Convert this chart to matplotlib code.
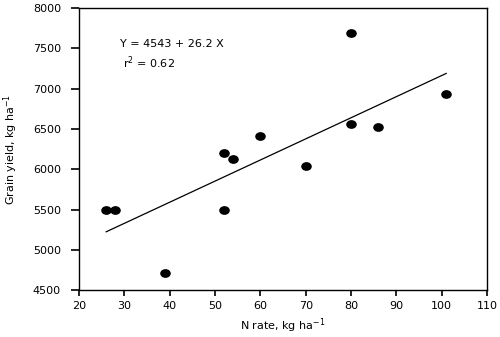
import numpy as np
import matplotlib
matplotlib.use("Agg")
import matplotlib.pyplot as plt
from matplotlib.path import Path
from matplotlib.transforms import Affine2D

# N rate (kg/ha) and grain yield (kg/ha)
n_rate = [26, 28, 39, 52, 52, 54, 60, 70, 80, 80, 86, 101]
grain_yield = [5500, 5500, 4715, 5500, 6205, 6125, 6410, 6035, 7695, 6565, 6525, 6935]

# fitted regression
intercept = 4543
slope = 26.2
r_squared = 0.62

x_ticks = [20, 30, 40, 50, 60, 70, 80, 90, 100, 110]
y_ticks = [4500, 5000, 5500, 6000, 6500, 7000, 7500, 8000]

plt.rcParams['font.family'] = ['DejaVu Sans']
plt.rcParams['font.size'] = 8

fig = plt.figure(figsize=(5.0, 3.37), dpi=100)
ax = fig.add_axes([0.158, 0.139, 0.816, 0.837])

# slightly wide dot marker
oval = Path.unit_circle().transformed(Affine2D().scale(1.25, 1.0))
ax.plot(n_rate, grain_yield, linestyle='none', marker=oval, markersize=6.6,
        color='black')

xf = np.array([min(n_rate), max(n_rate)])
ax.plot(xf, intercept + slope * xf, color='black', linewidth=0.9)

ax.text(29.0, 7560, f"Y = {intercept} + {slope} X", fontsize=8, va='center',
        ha='left')
ax.text(29.7, 7320, f"r$^2$ = {r_squared}", fontsize=8, va='center', ha='left')

ax.set_xlim(20, 110)
ax.set_ylim(4500, 8000)
ax.set_xticks(x_ticks)
ax.set_yticks(y_ticks)
ax.tick_params(axis='y', direction='out', length=6, width=1.2, pad=7)
ax.tick_params(axis='x', direction='out', length=4.5, width=1.2, pad=3)
for s in ax.spines.values():
    s.set_linewidth(1.0)

ax.set_xlabel("N rate, kg ha$^{-1}$", fontsize=8, labelpad=4)
ax.set_ylabel("Grain yield, kg ha$^{-1}$", fontsize=8, labelpad=9)

fig.savefig("out.png", dpi=100, facecolor='white')
